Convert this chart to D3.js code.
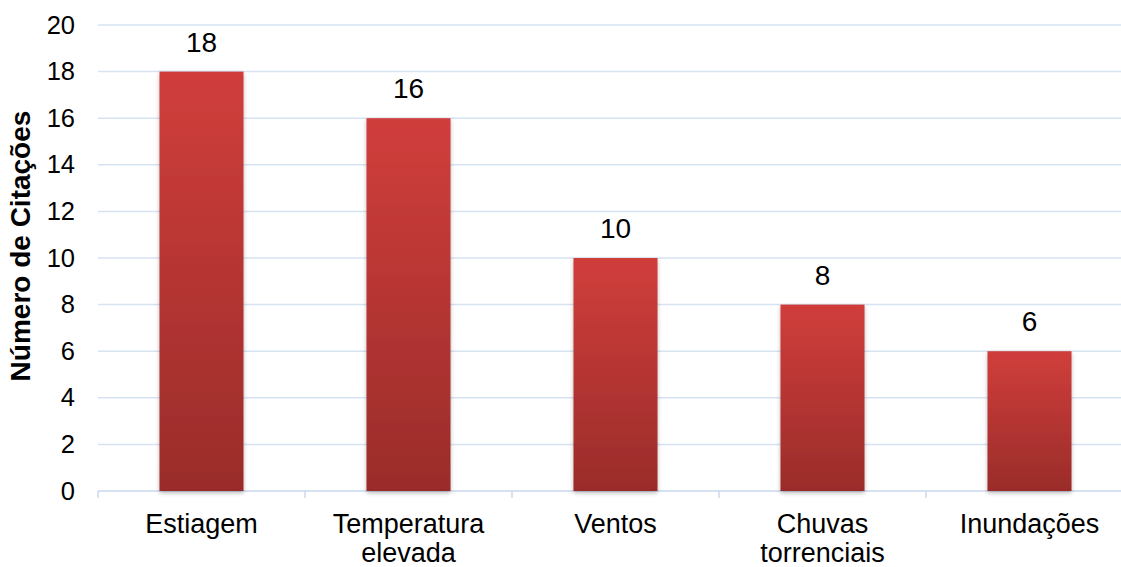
<!DOCTYPE html>
<html>
<head>
<meta charset="utf-8">
<script src="https://cdn.jsdelivr.net/npm/d3@7"></script>
<style>
  html, body { margin: 0; padding: 0; background: #fff; }
  svg { display: block; font-family: "Liberation Sans", Arial, sans-serif; }
</style>
</head>
<body>
<svg id="chart" width="1121" height="567"></svg>
<script>
// Climate events and how many times each was cited
const categories = ["Estiagem", "Temperatura\nelevada", "Ventos", "Chuvas\ntorrenciais", "Inundações"];
const citations = [18, 16, 10, 8, 6];
const yTicks = [0, 2, 4, 6, 8, 10, 12, 14, 16, 18, 20];
const yTitle = "Número de Citações";

const svg = d3.select("#chart");
const plotLeft = 98, plotRight = 1133, plotTop = 25, plotBottom = 491;

const x = d3.scaleBand().domain(categories).range([plotLeft, plotRight]).padding(0);
const y = d3.scaleLinear().domain([0, 20]).range([plotBottom, plotTop]);
const barW = x.bandwidth() * 0.406;

const defs = svg.append("defs");
const grad = defs.append("linearGradient")
  .attr("id", "barFill").attr("x1", 0).attr("y1", 0).attr("x2", 0).attr("y2", 1);
grad.append("stop").attr("offset", "0%").attr("stop-color", "#d03e3b");
grad.append("stop").attr("offset", "100%").attr("stop-color", "#9a2c2a");

const shadow = defs.append("filter").attr("id", "barShadow")
  .attr("x", "-20%").attr("y", "-10%").attr("width", "140%").attr("height", "120%");
shadow.append("feDropShadow").attr("dx", 0).attr("dy", 2).attr("stdDeviation", 2)
  .attr("flood-color", "#000").attr("flood-opacity", 0.28);

// Horizontal gridlines
svg.append("g").selectAll("line").data(yTicks.filter(d => d > 0)).join("line")
  .attr("x1", plotLeft).attr("x2", plotRight)
  .attr("y1", d => y(d)).attr("y2", d => y(d))
  .attr("stroke", "#d6e3f3").attr("stroke-width", 1.5);

// Y axis tick labels
const yAxis = d3.axisLeft(y).tickValues(yTicks).tickSize(0).tickPadding(0);
svg.append("g").attr("transform", `translate(${plotLeft - 23},0)`).call(yAxis)
  .call(g => g.select(".domain").remove())
  .selectAll("text")
  .attr("font-size", 25.5).attr("fill", "#000")
  .attr("font-family", "Liberation Sans, Arial, sans-serif");

// Baseline axis with category separators
const xAxis = d3.axisBottom(x).tickSize(0).tickFormat("");
const xg = svg.append("g").attr("transform", `translate(0,${plotBottom})`).call(xAxis);
xg.select(".domain").attr("stroke", "#c8d8ee").attr("stroke-width", 1.5).attr("d", `M${plotLeft},0H${plotRight}`);
xg.selectAll(".tick").remove();
const seps = categories.map(c => x(c));
xg.selectAll("line.sep").data(seps).join("line").attr("class", "sep")
  .attr("x1", d => d).attr("x2", d => d).attr("y1", 0).attr("y2", 7)
  .attr("stroke", "#c8d8ee").attr("stroke-width", 1.5);

// Bars
svg.append("g").selectAll("rect").data(categories).join("rect")
  .attr("x", d => x(d) + (x.bandwidth() - barW) / 2)
  .attr("y", (d, i) => y(citations[i]))
  .attr("width", barW)
  .attr("height", (d, i) => y(0) - y(citations[i]))
  .attr("fill", "url(#barFill)")
  .attr("filter", "url(#barShadow)");

// Value labels
svg.append("g").selectAll("text").data(categories).join("text")
  .attr("x", d => x(d) + x.bandwidth() / 2)
  .attr("y", (d, i) => y(citations[i]) - 20)
  .attr("text-anchor", "middle")
  .attr("font-size", 28).attr("fill", "#000")
  .text((d, i) => citations[i]);

// Category labels
const cat = svg.append("g").selectAll("text").data(categories).join("text")
  .attr("x", d => x(d) + x.bandwidth() / 2)
  .attr("y", 533)
  .attr("text-anchor", "middle")
  .attr("font-size", 27).attr("fill", "#000");
cat.each(function(d) {
  const lines = d.split("\n");
  d3.select(this).selectAll("tspan").data(lines).join("tspan")
    .attr("x", x(d) + x.bandwidth() / 2)
    .attr("dy", (l, i) => i === 0 ? 0 : 29)
    .text(l => l);
});

// Y axis title
svg.append("text")
  .attr("transform", "translate(30,246) rotate(-90)")
  .attr("text-anchor", "middle")
  .attr("font-size", 28).attr("font-weight", "bold").attr("fill", "#000")
  .text(yTitle);
</script>
</body>
</html>
